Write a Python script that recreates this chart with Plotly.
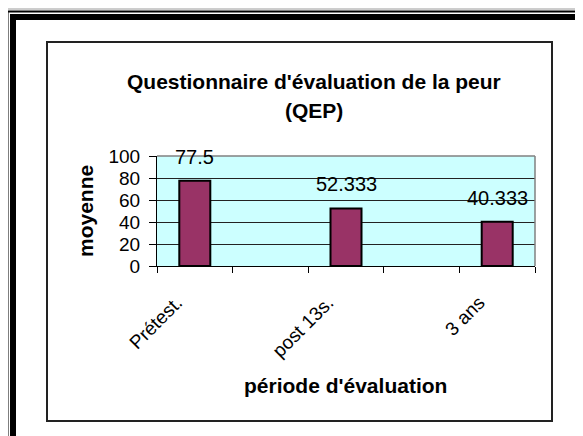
import plotly.graph_objects as go

# ---- data ----
categories = ["Prétest.", "post 13s.", "3 ans"]
moyenne = [77.5, 52.333, 40.333]
axis_categories = ["Prétest.", " ", "post 13s.", "  ", "3 ans"]
y_ticks = [0, 20, 40, 60, 80, 100]

W, H = 583, 436
OFF = 8  # page body margin
L, R, T, B = 157 - OFF, 535 - OFF, 156 - OFF, 266 - OFF  # plot area in figure pixels


def px(x):
    x -= OFF
    return (x - L) / (R - L)


def py(y):
    y -= OFF
    return (B - y) / (B - T)


fig = go.Figure()
fig.add_trace(go.Bar(
    x=categories, y=moyenne, width=0.41,
    marker=dict(color="#993366", line=dict(color="black", width=2)),
    showlegend=False, hoverinfo="skip",
))

FONT = "Liberation Sans, Arial, sans-serif"

annotations = []
for c, v in zip(categories, moyenne):
    annotations.append(dict(x=c, y=v, xref="x", yref="y", text=f"{v:g}",
                            showarrow=False, yshift=24, yanchor="middle",
                            font=dict(size=20, color="black", family=FONT)))

annotations += [
    dict(x=px(313.5), y=py(81), xref="paper", yref="paper",
         text="<b>Questionnaire d'évaluation de la peur</b>", showarrow=False,
         xanchor="center", yanchor="middle", font=dict(size=21, color="black", family=FONT)),
    dict(x=px(313.5), y=py(110), xref="paper", yref="paper",
         text="<b>(QEP)</b>", showarrow=False,
         xanchor="center", yanchor="middle", font=dict(size=21, color="black", family=FONT)),
    dict(x=px(85), y=0.5, xref="paper", yref="paper", text="<b>moyenne</b>",
         textangle=-90, showarrow=False, xanchor="center", yanchor="middle",
         font=dict(size=21, color="black", family=FONT)),
    dict(x=px(345.5), y=py(385), xref="paper", yref="paper",
         text="<b>période d'évaluation</b>", showarrow=False,
         xanchor="center", yanchor="middle", font=dict(size=21, color="black", family=FONT)),
]


def hline(y, x0, x1, color, w):
    return dict(type="line", xref="paper", yref="paper", x0=px(x0), x1=px(x1),
                y0=py(y), y1=py(y), line=dict(color=color, width=w), layer="above")


def vline(x, y0, y1, color, w):
    return dict(type="line", xref="paper", yref="paper", x0=px(x), x1=px(x),
                y0=py(y0), y1=py(y1), line=dict(color=color, width=w), layer="above")


shapes = [
    # outer page border
    hline(9, 5, 583, "#9a9a9a", 1),
    vline(5, 9, 436, "#9a9a9a", 1),
    hline(11.5, 7, 583, "black", 2),
    vline(7.5, 11, 436, "black", 2),
    dict(type="rect", xref="paper", yref="paper", x0=px(10), x1=px(583),
         y0=py(14), y1=py(20), fillcolor="black", line=dict(width=0), layer="above"),
    dict(type="rect", xref="paper", yref="paper", x0=px(10), x1=px(16),
         y0=py(14), y1=py(436), fillcolor="black", line=dict(width=0), layer="above"),
    vline(581, 20, 436, "#9a9a9a", 1.5),
    # chart area border
    dict(type="rect", xref="paper", yref="paper", x0=px(47), x1=px(552),
         y0=py(42), y1=py(421), line=dict(color="#222222", width=2), layer="above"),
    # plot-area border top/right
    hline(156, 157, 535, "#808080", 1.5),
    vline(535, 156, 266, "#808080", 1.5),
]

fig.update_layout(
    width=W, height=H, autosize=False,
    margin=dict(l=L, r=W - R, t=T, b=H - B, pad=0),
    paper_bgcolor="white", plot_bgcolor="#CCFFFF",
    font=dict(family=FONT, color="black"),
    annotations=annotations, shapes=shapes,
    bargap=0.59,
)
fig.update_xaxes(
    type="category", categoryorder="array", categoryarray=axis_categories,
    range=[-0.5, 4.5], tickson="boundaries", ticks="outside", ticklen=6,
    tickcolor="black", tickwidth=1, showline=True, linecolor="black", linewidth=1,
    tickangle=-45, tickfont=dict(size=19, color="black", family=FONT),
    ticklabelshift=-18, ticklabelstandoff=17,
    showgrid=False, fixedrange=True,
)
fig.update_yaxes(
    range=[0, 100], tickvals=y_ticks, ticks="outside", ticklen=7,
    tickcolor="black", showline=True, linecolor="black", linewidth=1,
    showgrid=True, gridcolor="#222222", gridwidth=1, zeroline=False,
    tickfont=dict(size=19, color="black", family=FONT), ticklabelstandoff=5,
)

fig.write_html("out.html")
